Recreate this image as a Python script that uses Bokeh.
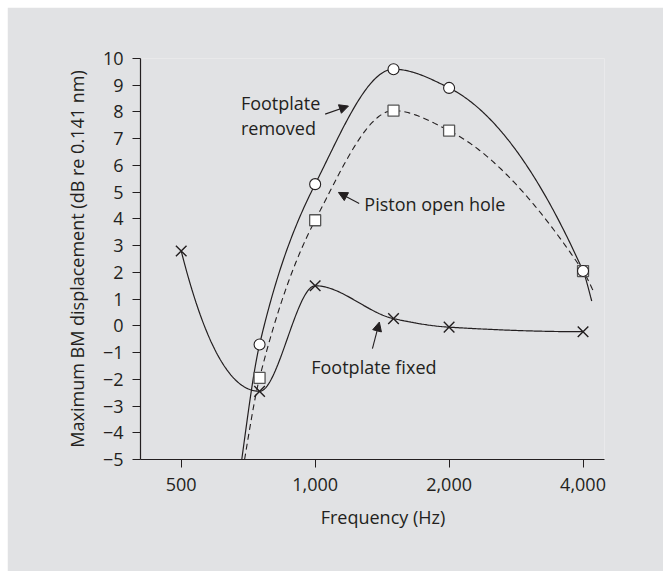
import numpy as np
from bokeh.plotting import figure
from bokeh.models import Range1d, FixedTicker, Label, Arrow, NormalHead
from bokeh.embed import file_html
from bokeh.resources import INLINE

# ---- data ----
freq_removed = [750, 1000, 1500, 2000, 4000]
db_removed = [-0.7, 5.3, 9.6, 8.9, 2.05]

freq_piston = [750, 1000, 1500, 2000, 4000]
db_piston = [-1.95, 3.95, 8.05, 7.3, 2.05]

freq_fixed = [500, 750, 1000, 1500, 2000, 4000]
db_fixed = [2.8, -2.45, 1.5, 0.27, -0.05, -0.22]

# where the drawn curves run on beyond the markers
removed_curve_start = (684, -5.0)
removed_curve_end = (4184, 0.93)
piston_curve_start = (694, -5.0)
piston_curve_end = (4220, 1.3)

y_ticks = list(range(-5, 11))
y_tick_labels = [str(v).replace("-", "\u2212") for v in y_ticks]
x_ticks = [500, 1000, 2000, 4000]
x_tick_labels = ["500", "1,000", "2,000", "4,000"]

INK = "#231f20"
BG = "#e1e2e4"
FONT = "Open Sans"


def pchip(xs, ys, n=300):
    """Smooth monotone (Fritsch-Carlson) curve through the points, in log2 frequency."""
    x = np.log2(np.asarray(xs, float))
    y = np.asarray(ys, float)
    h = np.diff(x)
    d = np.diff(y) / h
    m = np.zeros_like(y)
    for k in range(1, len(x) - 1):
        if d[k - 1] * d[k] > 0:
            w1 = 2 * h[k] + h[k - 1]
            w2 = h[k] + 2 * h[k - 1]
            m[k] = (w1 + w2) / (w1 / d[k - 1] + w2 / d[k])

    def end(h0, h1, d0, d1):
        mm = ((2 * h0 + h1) * d0 - h0 * d1) / (h0 + h1)
        if np.sign(mm) != np.sign(d0):
            mm = 0.0
        elif np.sign(d0) != np.sign(d1) and abs(mm) > abs(3 * d0):
            mm = 3 * d0
        return mm

    m[0] = end(h[0], h[1], d[0], d[1])
    m[-1] = end(h[-1], h[-2], d[-1], d[-2])
    xn = np.linspace(x[0], x[-1], n)
    idx = np.clip(np.searchsorted(x, xn) - 1, 0, len(x) - 2)
    t = (xn - x[idx]) / h[idx]
    h00 = 2 * t**3 - 3 * t**2 + 1
    h10 = t**3 - 2 * t**2 + t
    h01 = -2 * t**3 + 3 * t**2
    h11 = t**3 - t**2
    yn = h00 * y[idx] + h10 * h[idx] * m[idx] + h01 * y[idx + 1] + h11 * h[idx] * m[idx + 1]
    return 2 ** xn, yn


p = figure(
    width=656, height=564,
    x_axis_type="log",
    x_range=Range1d(405, 4470), y_range=Range1d(-5, 10),
    output_backend="svg", toolbar_location=None,
    min_border_left=133, min_border_right=59,
    min_border_top=51, min_border_bottom=112,
)
p.margin = (7, 0, 0, 7)
p.background_fill_color = BG
p.border_fill_color = BG
p.outline_line_color = None
p.grid.grid_line_color = None

# axes
for ax in (p.xaxis[0], p.yaxis[0]):
    ax.axis_line_color = INK
    ax.axis_line_width = 1.2
    ax.major_tick_line_color = INK
    ax.major_tick_out = 8
    ax.major_tick_in = 0
    ax.minor_tick_line_color = None
    ax.major_label_text_font = FONT
    ax.major_label_text_font_size = "18px"
    ax.major_label_text_color = INK
    ax.axis_label_text_font = FONT
    ax.axis_label_text_font_size = "18px"
    ax.axis_label_text_font_style = "normal"
    ax.axis_label_text_color = INK

p.xaxis.ticker = FixedTicker(ticks=x_ticks)
p.xaxis.major_label_overrides = dict(zip(x_ticks, x_tick_labels))
p.xaxis.major_label_standoff = 10
# leading spaces nudge the centred label right, as in the original
p.xaxis.axis_label = "\u2003\u2009Frequency (Hz)"
p.xaxis.axis_label_standoff = 11

p.yaxis.ticker = FixedTicker(ticks=y_ticks)
p.yaxis.major_label_overrides = dict(zip(y_ticks, y_tick_labels))
p.yaxis.major_label_standoff = 9
p.yaxis.axis_label = "Maximum BM displacement (dB re 0.141 nm)"
p.yaxis.axis_label_standoff = 11

# curves
fx, fy = pchip([removed_curve_start[0]] + freq_removed + [removed_curve_end[0]],
               [removed_curve_start[1]] + db_removed + [removed_curve_end[1]])
p.line(fx, fy, line_color=INK, line_width=1.2)

px, py = pchip([piston_curve_start[0]] + freq_piston + [piston_curve_end[0]],
               [piston_curve_start[1]] + db_piston + [piston_curve_end[1]])
p.line(px, py, line_color=INK, line_width=1.1, line_dash="6 4")

xx, xy = pchip(freq_fixed, db_fixed)
p.line(xx, xy, line_color=INK, line_width=1.2)

# markers
p.scatter(freq_fixed, db_fixed, marker="x", size=15, line_color=INK, line_width=1.4)
p.scatter(freq_piston, db_piston, marker="square", size=11,
          fill_color="white", line_color="#555555", line_width=1.3)
p.scatter(freq_removed, db_removed, marker="circle", size=11,
          fill_color="white", line_color=INK, line_width=1.1)

# annotations
def txt(x, y, s, align="left", baseline="middle"):
    p.add_layout(Label(x=x, y=y, text=s, text_font=FONT, text_font_size="18px",
                       text_color=INK, text_align=align, text_baseline=baseline))

txt(681, 8.32, "Footplate")
txt(681, 7.39, "removed")
txt(1290, 4.55, "Piston open hole")
txt(980, -1.54, "Footplate fixed")


def arrow(x0, y0, x1, y1):
    p.add_layout(Arrow(end=NormalHead(size=9, fill_color=INK, line_color=INK, line_width=1),
                       x_start=x0, y_start=y0, x_end=x1, y_end=y1,
                       line_color=INK, line_width=1.1))

arrow(1053, 7.92, 1188, 8.22)
arrow(1256, 4.58, 1128, 4.99)
arrow(1345, -0.85, 1394, 0.14)

open("out.html", "w").write(file_html(p, INLINE))
